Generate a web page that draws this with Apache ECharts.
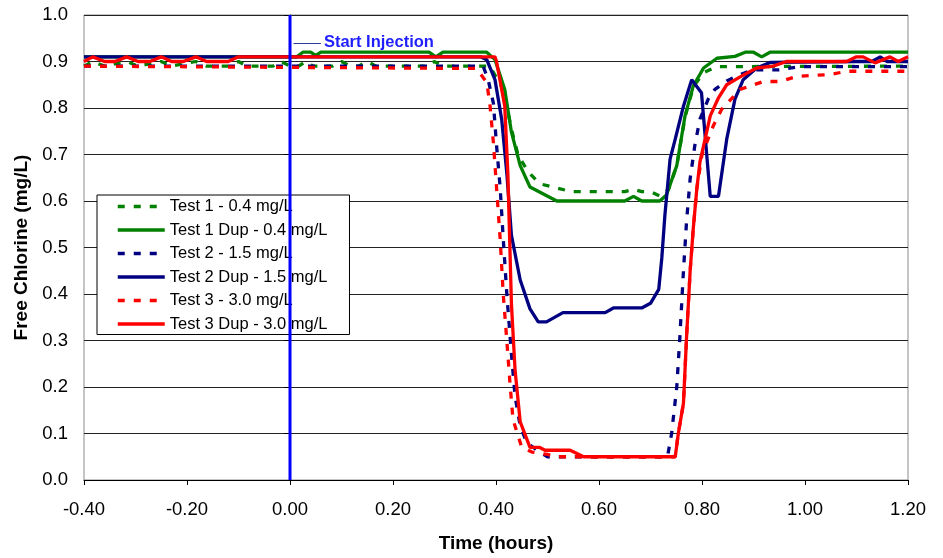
<!DOCTYPE html>
<html>
<head>
<meta charset="utf-8">
<script src="https://cdn.jsdelivr.net/npm/echarts@6/dist/echarts.min.js"></script>
<style>
html,body{margin:0;padding:0;background:#fff;}
#chart{width:943px;height:558px;}
</style>
</head>
<body>
<div id="chart"></div>
<script>
// ---- data: [time (hours), free chlorine (mg/L)] ----
const seriesNames = ['Test 1 - 0.4 mg/L','Test 1 Dup - 0.4 mg/L','Test 2 - 1.5 mg/L','Test 2 Dup - 1.5 mg/L','Test 3 - 3.0 mg/L','Test 3 Dup - 3.0 mg/L'];

const test1 = [[-0.40,0.89],[-0.383,0.90],[-0.36,0.89],[-0.317,0.90],[-0.295,0.89],[-0.25,0.90],[-0.23,0.89],[-0.183,0.90],[-0.162,0.89],[-0.12,0.89],[-0.10,0.90],[-0.083,0.89],[-0.033,0.89],[-0.017,0.90],[0.0,0.89],[0.017,0.89],[0.03,0.90],[0.045,0.89],[0.083,0.89],[0.10,0.90],[0.117,0.89],[0.133,0.89],[0.15,0.90],[0.167,0.89],[0.267,0.89],[0.28,0.90],[0.297,0.89],[0.388,0.89],[0.414,0.84],[0.43,0.755],[0.443,0.698],[0.463,0.662],[0.485,0.637],[0.518,0.628],[0.547,0.62],[0.65,0.62],[0.667,0.625],[0.683,0.62],[0.70,0.62],[0.72,0.61],[0.735,0.625],[0.751,0.676],[0.767,0.78],[0.783,0.845],[0.803,0.876],[0.829,0.889],[1.20,0.89]];

const test1Dup = [[-0.40,0.91],[0.0,0.91],[0.013,0.91],[0.025,0.92],[0.04,0.92],[0.05,0.913],[0.06,0.92],[0.27,0.92],[0.283,0.91],[0.297,0.92],[0.382,0.92],[0.398,0.904],[0.417,0.84],[0.43,0.748],[0.447,0.676],[0.466,0.63],[0.518,0.60],[0.65,0.60],[0.667,0.61],[0.683,0.60],[0.718,0.60],[0.731,0.613],[0.751,0.676],[0.767,0.783],[0.783,0.847],[0.803,0.886],[0.829,0.907],[0.864,0.911],[0.884,0.92],[0.90,0.92],[0.916,0.91],[0.932,0.92],[1.20,0.92]];

const test2 = [[-0.40,0.89],[0.375,0.89],[0.385,0.86],[0.395,0.81],[0.401,0.72],[0.408,0.63],[0.414,0.52],[0.421,0.40],[0.43,0.27],[0.437,0.18],[0.447,0.116],[0.46,0.08],[0.485,0.06],[0.50,0.05],[0.733,0.05],[0.741,0.10],[0.751,0.20],[0.757,0.307],[0.764,0.45],[0.77,0.556],[0.777,0.648],[0.786,0.719],[0.796,0.776],[0.812,0.819],[0.825,0.84],[0.848,0.858],[0.874,0.872],[0.90,0.882],[0.95,0.882],[0.99,0.889],[1.20,0.889]];

const test2Dup = [[-0.40,0.91],[0.37,0.91],[0.382,0.904],[0.398,0.861],[0.411,0.776],[0.421,0.66],[0.43,0.526],[0.447,0.43],[0.466,0.368],[0.482,0.34],[0.498,0.34],[0.53,0.36],[0.612,0.36],[0.628,0.37],[0.683,0.37],[0.70,0.38],[0.716,0.41],[0.722,0.478],[0.728,0.57],[0.738,0.69],[0.748,0.733],[0.764,0.804],[0.78,0.861],[0.799,0.833],[0.816,0.61],[0.832,0.61],[0.848,0.733],[0.864,0.819],[0.88,0.861],[0.906,0.886],[0.932,0.898],[1.10,0.90],[1.13,0.90],[1.146,0.91],[1.159,0.90],[1.20,0.90]];

const test3 = [[-0.40,0.89],[0.362,0.885],[0.382,0.855],[0.388,0.81],[0.395,0.725],[0.401,0.63],[0.408,0.52],[0.414,0.40],[0.421,0.30],[0.427,0.21],[0.433,0.13],[0.45,0.07],[0.47,0.06],[0.50,0.055],[0.52,0.05],[0.748,0.05],[0.754,0.10],[0.764,0.165],[0.77,0.307],[0.777,0.45],[0.783,0.54],[0.79,0.627],[0.80,0.70],[0.822,0.762],[0.838,0.797],[0.874,0.84],[0.919,0.857],[0.951,0.857],[0.984,0.868],[1.049,0.872],[1.081,0.879],[1.20,0.879]];

const test3Dup = [[-0.40,0.90],[-0.383,0.91],[-0.36,0.90],[-0.34,0.90],[-0.317,0.91],[-0.295,0.90],[-0.272,0.90],[-0.25,0.91],[-0.23,0.90],[-0.207,0.90],[-0.183,0.91],[-0.162,0.90],[-0.12,0.90],[-0.10,0.91],[0.398,0.91],[0.401,0.90],[0.417,0.804],[0.423,0.66],[0.43,0.378],[0.437,0.237],[0.447,0.125],[0.466,0.07],[0.485,0.07],[0.495,0.064],[0.544,0.064],[0.57,0.05],[0.748,0.05],[0.754,0.10],[0.764,0.165],[0.77,0.307],[0.777,0.45],[0.783,0.54],[0.79,0.627],[0.796,0.684],[0.806,0.733],[0.816,0.783],[0.832,0.822],[0.848,0.85],[0.874,0.867],[0.906,0.886],[0.938,0.89],[0.964,0.90],[1.081,0.90],[1.10,0.91],[1.113,0.91],[1.136,0.897],[1.165,0.91],[1.181,0.90],[1.20,0.91]];

const injectionTime = 0.0;
const injectionLine = [[injectionTime,0.0],[injectionTime,1.0]];
const injectionLabel = 'Start Injection';
const annotationLevel = 0.94;

const xMin = -0.4, xMax = 1.2, xStep = 0.2;
const yMin = 0, yMax = 1.0, yStep = 0.1;

const colors = ['#008000','#008000','#000080','#000080','#FF0000','#FF0000'];
const dashed = [true,false,true,false,true,false];
const allData = [test1,test1Dup,test2,test2Dup,test3,test3Dup];

const FONT = '"Liberation Sans", Arial, Helvetica, sans-serif';

const series = allData.map((d,i) => ({
  name: seriesNames[i],
  type: 'line',
  data: d,
  symbol: 'none',
  showSymbol: false,
  smooth: false,
  lineStyle: { color: colors[i], width: 3.3, type: dashed[i] ? [7,9] : 'solid', cap: 'butt' },
  itemStyle: { color: colors[i] },
  emphasis: { disabled: true },
  z: 3 + i
}));

series.push({
  name: 'injection',
  type: 'line',
  data: injectionLine,
  symbol: 'none',
  showSymbol: false,
  lineStyle: { color: '#0000FF', width: 3 },
  emphasis: { disabled: true },
  z: 10,
  markLine: {
    silent: true,
    symbol: ['none','none'],
    animation: false,
    lineStyle: { color: '#2a3a9a', width: 1, type: 'solid' },
    label: {
      show: true,
      position: 'end',
      formatter: injectionLabel,
      color: '#1f1fff',
      fontWeight: 'bold',
      fontSize: 16.5,
      fontFamily: FONT,
      distance: 3
    },
    data: [[{coord:[injectionTime+0.007, annotationLevel]},{coord:[injectionTime+0.06, annotationLevel]}]]
  }
});

const chart = echarts.init(document.getElementById('chart'), null, {renderer:'canvas'});
chart.setOption({
  animation: false,
  backgroundColor: '#ffffff',
  grid: { left: 84, right: 35, top: 15, bottom: 74, show: true, borderColor: '#8a8a8a', borderWidth: 1, containLabel: false },
  legend: {
    data: seriesNames,
    orient: 'vertical',
    left: 97,
    top: 195,
    padding: [3, 22, 2, 19],
    itemWidth: 47,
    itemHeight: 14,
    itemGap: 6.5,
    itemStyle: { opacity: 0 },
    lineStyle: { width: 3.5 },
    backgroundColor: '#ffffff',
    borderColor: '#000000',
    borderWidth: 1,
    borderRadius: 0,
    textStyle: { fontFamily: FONT, fontSize: 16.5, color: '#000', lineHeight: 17 },
    selectedMode: false
  },
  xAxis: {
    type: 'value',
    min: xMin, max: xMax, interval: xStep,
    name: 'Time (hours)',
    nameLocation: 'middle',
    nameGap: 54,
    nameTextStyle: { fontFamily: FONT, fontSize: 19, fontWeight: 'bold', color: '#000' },
    axisLine: { show: true, onZero: false, lineStyle: { color: '#000', width: 1 } },
    axisTick: { show: true, inside: false, length: 5, lineStyle: { color: '#000' } },
    axisLabel: { fontFamily: FONT, fontSize: 18.5, color: '#000', margin: 20, formatter: v => v.toFixed(2) },
    splitLine: { show: false }
  },
  yAxis: {
    type: 'value',
    min: yMin, max: yMax, interval: yStep,
    name: 'Free Chlorine (mg/L)',
    nameLocation: 'middle',
    nameGap: 52,
    nameRotate: 90,
    nameTextStyle: { fontFamily: FONT, fontSize: 19, fontWeight: 'bold', color: '#000' },
    axisLine: { show: true, lineStyle: { color: '#000', width: 1 } },
    axisTick: { show: true, inside: false, length: 6, lineStyle: { color: '#000' } },
    axisLabel: { fontFamily: FONT, fontSize: 18.5, color: '#000', margin: 16, formatter: v => v.toFixed(1) },
    splitLine: { show: true, lineStyle: { color: '#222', width: 1 } }
  },
  series: series
});
</script>
</body>
</html>
